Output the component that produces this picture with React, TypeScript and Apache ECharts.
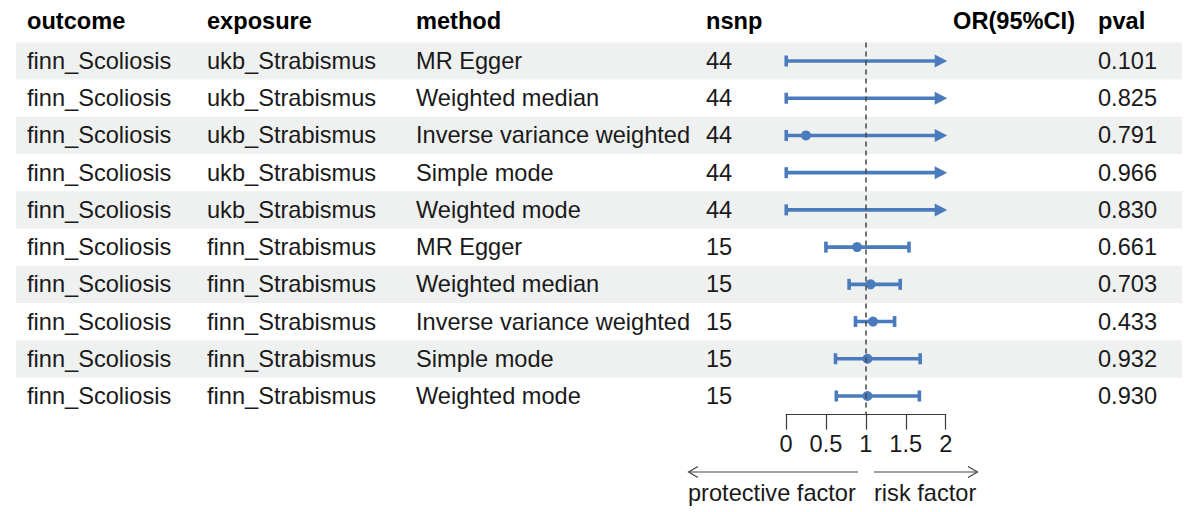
import React, { useEffect, useRef } from "react";
import * as echarts from "echarts";

const headers = ["outcome", "exposure", "method", "nsnp", "OR(95%CI)", "pval"];
const outcome = [
  "finn_Scoliosis", "finn_Scoliosis", "finn_Scoliosis", "finn_Scoliosis", "finn_Scoliosis",
  "finn_Scoliosis", "finn_Scoliosis", "finn_Scoliosis", "finn_Scoliosis", "finn_Scoliosis",
];
const exposure = [
  "ukb_Strabismus", "ukb_Strabismus", "ukb_Strabismus", "ukb_Strabismus", "ukb_Strabismus",
  "finn_Strabismus", "finn_Strabismus", "finn_Strabismus", "finn_Strabismus", "finn_Strabismus",
];
const methods = [
  "MR Egger", "Weighted median", "Inverse variance weighted", "Simple mode", "Weighted mode",
  "MR Egger", "Weighted median", "Inverse variance weighted", "Simple mode", "Weighted mode",
];
const nsnp = [44, 44, 44, 44, 44, 15, 15, 15, 15, 15];
// point estimates (null = outside the drawn range, not shown)
const orEst: (number | null)[] = [null, null, 0.25, null, null, 0.89, 1.06, 1.09, 1.02, 1.02];
const orLower = [0.003, 0.003, 0.003, 0.003, 0.003, 0.5, 0.79, 0.87, 0.62, 0.63];
const orUpper = [3.5, 3.5, 3.5, 3.5, 3.5, 1.54, 1.43, 1.36, 1.68, 1.67];
const pval = ["0.101", "0.825", "0.791", "0.966", "0.830", "0.661", "0.703", "0.433", "0.932", "0.930"];
const xMin = 0;
const xMax = 2;
const xInterval = 0.5;
const leftNote = "protective factor";
const rightNote = "risk factor";

const FONT = "'Liberation Sans', Arial, Helvetica, sans-serif";
const FS = 23.6;
const BLUE = "#4A7CBD";
const TXT = "#1a1a1a";
const colX = [27, 207, 416, 706, 1098];

export default function App() {
  const ref = useRef<HTMLDivElement>(null);
  useEffect(() => {
    document.body.style.margin = "0";
    const chart = echarts.init(ref.current!, undefined, { renderer: "svg" });
    const rowIdx = outcome.map((_, i) => String(i));

    const option: any = {
      animation: false,
      backgroundColor: "#ffffff",
      grid: { left: 786, right: 254.3, top: 42.4, bottom: 97.4, containLabel: false },
      xAxis: {
        type: "value",
        min: xMin,
        max: xMax,
        interval: xInterval,
        splitLine: { show: false },
        axisLine: { show: true, lineStyle: { color: "#3a3a3a", width: 1.2 } },
        axisTick: { show: true, length: 15, lineStyle: { color: "#3a3a3a", width: 1.2 } },
        axisLabel: { fontSize: FS, color: TXT, fontFamily: FONT, margin: 17 },
      },
      yAxis: { type: "category", data: rowIdx, inverse: true, show: false },
      graphic: [
        ...headers.map((h, i) => {
          const isOR = i === 4;
          const x = isOR ? 1075 : i < 4 ? colX[i] : colX[4];
          return {
            type: "text",
            x,
            y: 21,
            style: {
              text: h,
              fontSize: FS,
              fontWeight: "bold",
              fontFamily: FONT,
              fill: "#000",
              align: isOR ? "right" : "left",
              verticalAlign: "middle",
            },
          };
        }),
        { type: "line", shape: { x1: 858, y1: 472, x2: 689, y2: 472 }, style: { stroke: "#444", lineWidth: 1.2 } },
        { type: "polyline", shape: { points: [[698, 466.5], [688.5, 472], [698, 477.5]] }, style: { stroke: "#444", lineWidth: 1.2, fill: null } },
        { type: "line", shape: { x1: 874, y1: 472, x2: 977, y2: 472 }, style: { stroke: "#444", lineWidth: 1.2 } },
        { type: "polyline", shape: { points: [[968, 466.5], [977.5, 472], [968, 477.5]] }, style: { stroke: "#444", lineWidth: 1.2, fill: null } },
        { type: "text", x: 688, y: 493, style: { text: leftNote, fontSize: FS, fontFamily: FONT, fill: TXT, verticalAlign: "middle" } },
        { type: "text", x: 874, y: 493, style: { text: rightNote, fontSize: FS, fontFamily: FONT, fill: TXT, verticalAlign: "middle" } },
      ],
      series: [
        {
          type: "custom",
          name: "table",
          z: 1,
          clip: false,
          silent: true,
          data: outcome.map((_, i) => [0, i]),
          renderItem: (params: any, api: any) => {
            const i = api.value(1);
            const y = api.coord([0, i])[1];
            const h = api.size([0, 1])[1];
            const children: any[] = [];
            if (i % 2 === 0) {
              children.push({
                type: "rect",
                shape: { x: 16, y: y - h / 2, width: 1166, height: h },
                style: { fill: "#EEF1F0" },
              });
            }
            const vals = [outcome[i], exposure[i], methods[i], String(nsnp[i]), pval[i]];
            vals.forEach((t, c) => {
              children.push({
                type: "text",
                x: colX[c],
                y: y,
                style: { text: t, fontSize: FS, fontFamily: FONT, fill: TXT, verticalAlign: "middle" },
              });
            });
            return { type: "group", children };
          },
        },
        {
          type: "line",
          name: "ref",
          z: 2,
          data: [],
          silent: true,
          markLine: {
            silent: true,
            symbol: "none",
            label: { show: false },
            lineStyle: { type: [5, 4], color: "#444", width: 1.5 },
            data: [{ xAxis: 1 }],
          },
        },
        {
          type: "custom",
          name: "ci",
          z: 3,
          clip: false,
          silent: true,
          data: orLower.map((lo, i) => [lo, orUpper[i], i]),
          renderItem: (params: any, api: any) => {
            const lo = api.value(0);
            const hi = api.value(1);
            const i = api.value(2);
            const p0 = api.coord([Math.max(lo, xMin), i]);
            const p1 = api.coord([Math.min(hi, xMax), i]);
            const y = p0[1];
            const children: any[] = [];
            const st = { stroke: BLUE, lineWidth: 3.6 };
            const rightArrow = hi > xMax;
            const leftArrow = lo < xMin;
            const xl = leftArrow ? p0[0] + 10 : p0[0];
            const xr = rightArrow ? p1[0] - 10 : p1[0];
            children.push({ type: "line", shape: { x1: xl, y1: y, x2: xr, y2: y }, style: st });
            if (rightArrow) {
              children.push({
                type: "polygon",
                shape: { points: [[p1[0] - 11, y - 6.5], [p1[0] + 1.5, y], [p1[0] - 11, y + 6.5]] },
                style: { fill: BLUE },
              });
            } else {
              children.push({ type: "line", shape: { x1: p1[0], y1: y - 5.5, x2: p1[0], y2: y + 5.5 }, style: st });
            }
            if (leftArrow) {
              children.push({
                type: "polygon",
                shape: { points: [[p0[0] + 11, y - 6.5], [p0[0] - 1.5, y], [p0[0] + 11, y + 6.5]] },
                style: { fill: BLUE },
              });
            } else {
              children.push({ type: "line", shape: { x1: p0[0], y1: y - 5.5, x2: p0[0], y2: y + 5.5 }, style: st });
            }
            return { type: "group", children };
          },
        },
        {
          type: "scatter",
          name: "est",
          z: 4,
          silent: true,
          symbol: "circle",
          symbolSize: 10,
          itemStyle: { color: BLUE, opacity: 1 },
          data: orEst.map((v, i) => (v === null ? null : [v, i])).filter((d) => d !== null),
        },
      ],
    };
    chart.setOption(option);
    return () => chart.dispose();
  }, []);
  return <div ref={ref} style={{ width: 1200, height: 512 }} />;
}
